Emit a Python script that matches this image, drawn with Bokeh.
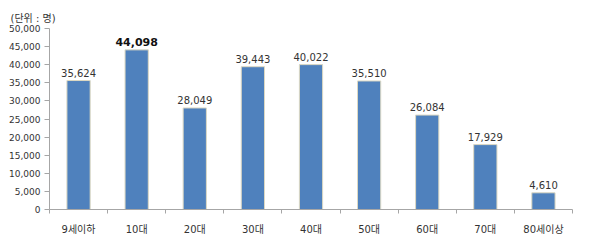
from bokeh.plotting import figure
from bokeh.models import ColumnDataSource, Range1d, FixedTicker, NumeralTickFormatter, LabelSet
from bokeh.embed import file_html
from bokeh.resources import INLINE
from bokeh.core.properties import value

categories = ["9세이하", "10대", "20대", "30대", "40대", "50대", "60대", "70대", "80세이상"]
values = [35624, 44098, 28049, 39443, 40022, 35510, 26084, 17929, 4610]
y_ticks = [0, 5000, 10000, 15000, 20000, 25000, 30000, 35000, 40000, 45000, 50000]
unit_label = "(단위 : 명)"

FONT = "DejaVu Sans, Noto Sans CJK KR"
TEXT_COLOR = "#333333"
AXIS_COLOR = "#A6A6A6"

xs = [i + 0.5 for i in range(len(categories))]
labels = [f"{v:,}" for v in values]
max_i = values.index(max(values))

src = ColumnDataSource(dict(x=xs, top=values, label=labels))
normal = ColumnDataSource(dict(x=[x for i, x in enumerate(xs) if i != max_i],
                               top=[v for i, v in enumerate(values) if i != max_i],
                               label=[l for i, l in enumerate(labels) if i != max_i]))
bold = ColumnDataSource(dict(x=[xs[max_i]], top=[values[max_i]], label=[labels[max_i]]))

p = figure(width=607, height=247, output_backend="svg", toolbar_location=None,
           x_range=Range1d(0, len(categories)), y_range=Range1d(0, 50000),
           min_border_left=49, min_border_right=35, min_border_top=28, min_border_bottom=38,
           title=unit_label)
p.title.align = "left"
p.title.offset = -39
p.title.text_font = FONT
p.title.text_font_size = "10px"
p.title.text_font_style = "normal"
p.title.text_color = TEXT_COLOR
p.title.standoff = 9
p.outline_line_color = None
p.xgrid.visible = False
p.ygrid.visible = False
p.background_fill_color = "white"
p.border_fill_color = "white"

p.vbar(x="x", top="top", width=0.4, source=src, fill_color="#4F81BD",
       line_color="#DDD9C3", line_width=1)

p.add_layout(LabelSet(x="x", y="top", text="label", source=normal, text_align="center",
                      text_baseline="bottom", y_offset=4, text_font=value(FONT),
                      text_font_size="10px", text_color=TEXT_COLOR))
p.add_layout(LabelSet(x="x", y="top", text="label", source=bold, text_align="center",
                      text_baseline="bottom", y_offset=4, text_font=value(FONT),
                      text_font_size="11px", text_font_style="bold", text_color="#111111"))

# y axis
yax = p.yaxis[0]
yax.ticker = FixedTicker(ticks=y_ticks)
yax.formatter = NumeralTickFormatter(format="0,0")
yax.axis_line_color = AXIS_COLOR
yax.major_tick_line_color = AXIS_COLOR
yax.major_tick_out = 5
yax.major_tick_in = 0
yax.minor_tick_line_color = None
yax.major_label_text_font = FONT
yax.major_label_text_font_size = "9px"
yax.major_label_text_color = TEXT_COLOR
yax.major_label_standoff = 4

# x axis
xax = p.xaxis[0]
xax.ticker = FixedTicker(ticks=xs, minor_ticks=list(range(len(categories) + 1)))
xax.major_label_overrides = {x: c for x, c in zip(xs, categories)}
xax.axis_line_color = AXIS_COLOR
xax.major_tick_line_color = None
xax.minor_tick_line_color = AXIS_COLOR
xax.minor_tick_out = 4
xax.minor_tick_in = 0
xax.major_label_text_font = FONT
xax.major_label_text_font_size = "10px"
xax.major_label_text_color = TEXT_COLOR
xax.major_label_standoff = 8

open("out.html", "w").write(file_html(p, INLINE))
